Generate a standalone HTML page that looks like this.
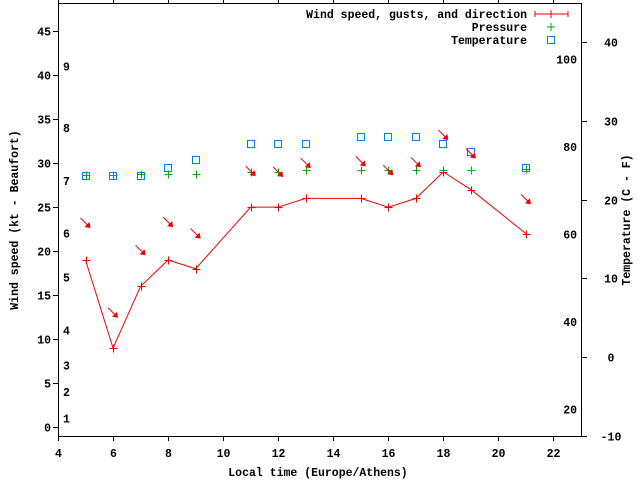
<!DOCTYPE html>
<html><head><meta charset="utf-8"><style>
html,body{margin:0;padding:0;background:#fff;width:640px;height:480px;overflow:hidden}
svg text{font-family:"Liberation Mono",monospace;font-weight:bold;font-size:11.5px;fill:#000}
</style></head><body>
<svg id="chart" width="640" height="480" viewBox="0 0 640 480" xmlns="http://www.w3.org/2000/svg">
<g id="axes"></g>
<g id="marks"></g>
<g id="legend">
 <text x="527" y="18" text-anchor="end">Wind speed, gusts, and direction</text>
 <path d="M535 14H568M535 11V17M568 11V17M551 10V18" stroke="#e00" stroke-width="1" fill="none"/>
 <text x="527" y="31" text-anchor="end">Pressure</text>
 <path d="M547 27H555M551 23V31" stroke="#00b000" fill="none"/>
 <text x="527" y="44" text-anchor="end">Temperature</text>
 <rect x="547.5" y="36.5" width="7" height="7" fill="none" stroke="#0080ff"/>
</g>
<text x="318" y="476" text-anchor="middle">Local time (Europe/Athens)</text>
<text transform="translate(18,220) rotate(-90)" text-anchor="middle">Wind speed (kt - Beaufort)</text>
<text transform="translate(630,220) rotate(-90)" text-anchor="middle">Temperature (C - F)</text>
</svg>
<script>
const hours=[5,6,7,8,9,11,12,13,15,16,17,18,19,21];
const windSpeed=[19,9,16,19,18,25,25,26,26,25,26,29,27,22];
const gusts=[23.2,13,20.1,23.3,22,29.1,29,30,30.2,29.2,30.1,33.2,31.1,25.9];
const pressure=[28.6,28.6,28.8,28.8,28.8,29.0,29.0,29.2,29.2,29.2,29.2,29.2,29.2,29.3];
const tempC=[23,23,23,24,25,27,27,27,28,28,28,27,26,24];
const xTicks=[4,6,8,10,12,14,16,18,20,22];
const yTicks=[0,5,10,15,20,25,30,35,40,45];
const y2Ticks=[-10,0,10,20,30,40];
const fTicks=[20,40,60,80,100];
const beaufortLabels=["1","2","3","4","5","6","7","8","9"];
const beaufortKt=[1.0,4,7,11,17,22,28,34,41];

const L=58,R=581,T=3,B=436;
const X=h=>L+(h-4)*(R-L)/19;
const Y=k=>B-(k+1)*(B-T)/49.2;
const YC=c=>B-(c+10)*7.88;
const YF=f=>YC((f-32)*5/9);
const NS="http://www.w3.org/2000/svg";
function mk(tag,parent,attrs){const e=document.createElementNS(NS,tag);for(const k in attrs)e.setAttribute(k,attrs[k]);parent.appendChild(e);return e;}
const ax=document.getElementById('axes'),mg=document.getElementById('marks');
let frame=mk('rect',ax,{x:L+.5,y:T+.5,width:R-L,height:B-T,fill:'none',stroke:'#000'});


xTicks.forEach(h=>{
 const x=Math.round(X(h))+.5;
 let t=mk('path',ax,{d:`M${x} ${B}V${B+5}M${x} ${T}V${T-5}`,stroke:'#000'});
 
 
 let l=mk('text',ax,{x:x,y:457,'text-anchor':'middle'});l.textContent=h;
 
 
});
yTicks.forEach(v=>{
 const y=Math.round(Y(v))+.5;
 let t=mk('path',ax,{d:`M${L-5} ${y}H${L}`,stroke:'#000'});
 
 
 let l=mk('text',ax,{x:51,y:y+4,'text-anchor':'end'});l.textContent=v;
 
 
});
y2Ticks.forEach(v=>{
 const y=Math.round(YC(v))+.5;
 let t=mk('path',ax,{d:`M${R} ${y}H${R+6}`,stroke:'#000'});
 
 
 let l=mk('text',ax,{x:611,y:y+4,'text-anchor':'middle'});l.textContent=v;
 
 
});
fTicks.forEach(v=>{
 let l=mk('text',ax,{x:577,y:YF(v)+4,'text-anchor':'end'});l.textContent=v;
 
 
});
beaufortLabels.forEach((s,i)=>{
 let l=mk('text',ax,{x:63,y:Y(beaufortKt[i])+4});l.textContent=s;
 
 
});
// temperature
tempC.forEach((c,i)=>{
 let r=mk('rect',mg,{x:Math.round(X(hours[i]))-3.5,y:Math.round(YC(c))-3.5,width:7,height:7,fill:'none',stroke:'#0080ff'});
 
 
});
// pressure
pressure.forEach((p,i)=>{
 const x=Math.round(X(hours[i]))+.5,y=Math.round(Y(p))+.5;
 let e=mk('path',mg,{d:`M${x-4} ${y}H${x+4}M${x} ${y-4}V${y+4}`,stroke:'#00b000',fill:'none'});
 
 
});
// wind line
let pl=mk('polyline',mg,{points:hours.map((h,i)=>X(h)+','+Y(windSpeed[i])).join(' '),fill:'none',stroke:'#e00'});


windSpeed.forEach((w,i)=>{
 const x=Math.round(X(hours[i]))+.5,y=Math.round(Y(w))+.5;
 let e=mk('path',mg,{d:`M${x-4} ${y}H${x+4}M${x} ${y-4}V${y+4}`,stroke:'#e00',fill:'none'});
 
 
});
// gust/direction arrows
gusts.forEach((g,i)=>{
 const x=X(hours[i]),y=Y(g);
 let a=mk('g',mg,{});
 
 
 mk('line',a,{x1:x-5,y1:y-5,x2:x+4,y2:y+4,stroke:'#e00'});
 mk('polygon',a,{points:`${x+5},${y+5} ${x-1},${y+4} ${x+4},${y-1}`,fill:'#e00'});
});
</script>
</body></html>
